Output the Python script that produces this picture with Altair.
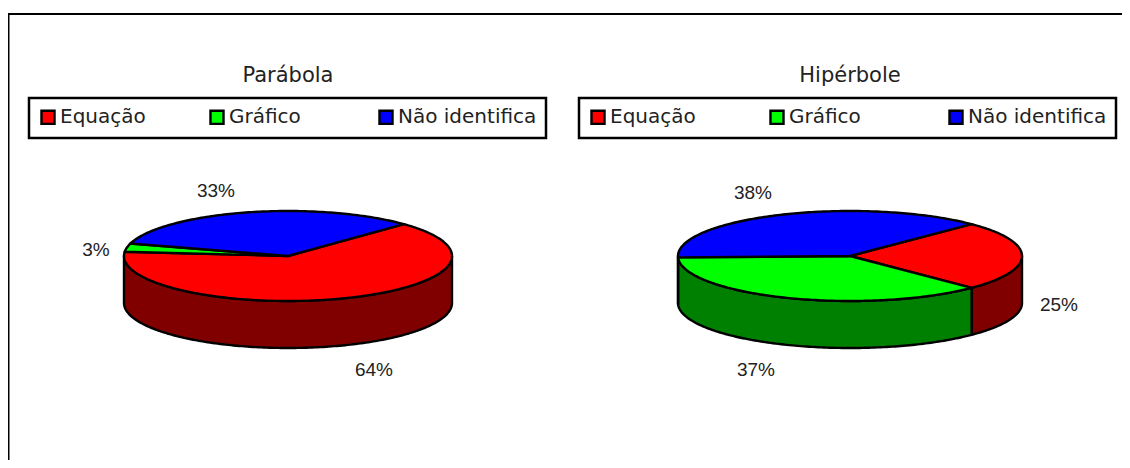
import math
import altair as alt

categories = ["Equação", "Gráfico", "Não identifica"]
top_colors = ["#ff0000", "#00ff00", "#0000ff"]
side_colors = ["#800000", "#008000", "#000080"]
parabola_values = [64, 3, 33]
hiperbole_values = [25, 37, 38]

FONT = "DejaVu Sans"
PCT_FONT = "Liberation Sans"
W, H = 1114, 452
M = 8  # page margin


def pt(cx, cy, rx, ry, deg, dz=0):
    a = math.radians(deg)
    return [cx + rx * math.sin(a) - M, cy - ry * math.cos(a) + dz - M]


def arc(cx, cy, rx, ry, a0, a1, dz=0):
    n = max(2, int(abs(a1 - a0)) + 1)
    return [pt(cx, cy, rx, ry, a0 + (a1 - a0) * i / n, dz) for i in range(n + 1)]


def feature(ring, cat):
    return {
        "type": "Feature",
        "geometry": {"type": "Polygon", "coordinates": [ring + [ring[0]]]},
        "properties": {"cat": cat},
    }


def pie_layers(values, cx, cy, rx, ry, depth, legend):
    tops, walls = [], []
    a = 45.0
    stroke = dict(stroke="black", strokeWidth=2.4, strokeJoin="round")
    for cat, v, side in zip(categories, values, side_colors):
        b = a + v * 3.6
        ring = [[cx - M, cy - M]] + arc(cx, cy, rx, ry, a, b)
        tops.append(feature(ring, cat))
        for shift in (0, 360):
            lo, hi = max(a, 90 + shift), min(b, 270 + shift)
            if hi > lo:
                f = feature(arc(cx, cy, rx, ry, lo, hi) + arc(cx, cy, rx, ry, hi, lo, depth), cat)
                walls.append(alt.Chart(alt.Data(values=[f])).mark_geoshape(fill=side, **stroke))
        a = b
    top = alt.Chart(alt.Data(values=tops)).mark_geoshape(**stroke).encode(
        fill=alt.Fill("properties.cat:N",
                      scale=alt.Scale(domain=categories, range=top_colors),
                      legend=legend)
    )
    return walls + [top]


def legend_for(x, y, col_pad):
    return alt.Legend(
        title=None, orient="none", legendX=x - M, legendY=y - M,
        direction="horizontal", columns=3, gridAlign="all",
        columnPadding=col_pad, padding=9,
        strokeColor="black", fillColor="white",
        symbolType="square", symbolSize=170, symbolStrokeColor="black",
        symbolStrokeWidth=2.4, symbolOpacity=1,
        labelFont=FONT, labelFontSize=20, labelColor="#222222", labelOffset=2,
        labelLimit=300,
    )


def label(text, x, y, size, font=PCT_FONT):
    return alt.Chart(alt.Data(values=[{"t": text}])).mark_text(
        font=font, fontSize=size, color="#222222", align="center", baseline="middle"
    ).encode(text="t:N", x=alt.value(x - M), y=alt.value(y - M))


frame = [
    alt.Chart(alt.Data(values=[{"k": 0}])).mark_rule(color="black", strokeWidth=2)
    .encode(x=alt.value(0.5), y=alt.value(6), y2=alt.value(H)),
    alt.Chart(alt.Data(values=[{"k": 0}])).mark_rule(color="black", strokeWidth=2)
    .encode(x=alt.value(0), x2=alt.value(W), y=alt.value(6)),
]

left = pie_layers(parabola_values, 288, 256, 164, 45, 47, legend_for(29, 98, 6))
right = pie_layers(hiperbole_values, 850, 256, 172, 45, 47, legend_for(579, 98, 16))

texts = [
    label("Parábola", 288, 76, 21, FONT),
    label("Hipérbole", 850, 76, 21, FONT),
    label(f"{parabola_values[2]}%", 216, 191, 19),
    label(f"{parabola_values[1]}%", 96, 250, 19),
    label(f"{parabola_values[0]}%", 374, 370, 19),
    label(f"{hiperbole_values[2]}%", 753, 193, 19),
    label(f"{hiperbole_values[0]}%", 1059, 305, 19),
    label(f"{hiperbole_values[1]}%", 756, 370, 19),
]

chart = alt.layer(*frame, *left, *right, *texts).resolve_scale(fill="independent").properties(
    width=W, height=H, padding=0,
    projection=alt.Projection(type="identity", scale=1, translate=[0, 0]),
    autosize=alt.AutoSizeParams(type="none"),
).configure_view(stroke=None).configure_legend(strokeWidth=2.5)

chart.save("out.html", embed_options={"renderer": "svg", "actions": False})
